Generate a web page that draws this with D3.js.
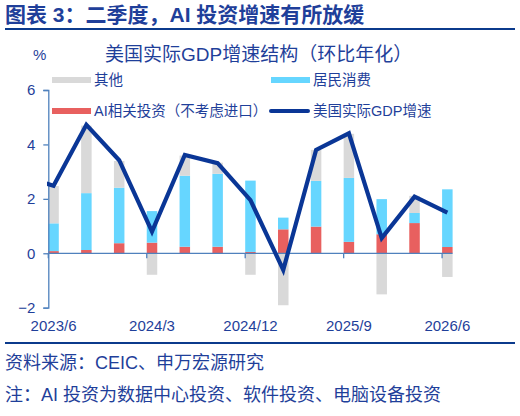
<!DOCTYPE html>
<html>
<head>
<meta charset="utf-8">
<script src="https://cdn.jsdelivr.net/npm/d3@7"></script>
<style>
  body { margin: 0; background: #fff; }
  text { font-family: "Liberation Sans", "Noto Sans CJK SC", sans-serif; fill: #1f3f9a; }
</style>
</head>
<body>
<div class="chart"></div>
<script>
// quarterly data
var quarters = ["2023/6", "2023/9", "2023/12", "2024/3", "2024/6", "2024/9", "2024/12",
                "2025/3", "2025/6", "2025/9", "2025/12", "2026/3", "2026/6"];
var tickLabels = ["2023/6", "2024/3", "2024/12", "2025/9", "2026/6"];
var aiInvest = [0.08, 0.12, 0.37, 0.39, 0.24, 0.24, 0.05, 0.88, 0.98, 0.42, 0.70, 1.11, 0.23];
var consumption = [1.02, 2.09, 2.04, 1.16, 2.61, 2.68, 2.62, 0.43, 1.68, 2.35, 1.29, 0.37, 2.12];
var other = [1.37, 2.48, 0.98, -0.79, 0.74, 0.41, -0.79, -1.91, 1.14, 1.62, -1.51, 0.63, -0.87];
var gdp = [2.48, 4.72, 3.42, 0.80, 3.61, 3.31, 1.95, -0.61, 3.80, 4.41, 0.56, 2.08, 1.49];
var gdpPrev = 2.85; // 2023/3, only the stub at the left edge shows
var yTicks = [-2, 0, 2, 4, 6];

var svgWidth = 520;
var svgHeight = 416;

var svg = d3.select(".chart")
  .append("svg")
  .attr("width", svgWidth)
  .attr("height", svgHeight);

var blue = "#1f3f9a";
var navy = "#0a3696";
var axisColor = "#4f81bd";

// header
svg.append("text")
  .attr("x", 5)
  .attr("y", 22)
  .attr("font-size", "21px")
  .attr("font-weight", "bold")
  .text("图表 3：二季度，AI 投资增速有所放缓");

svg.append("rect")
  .attr("x", 5).attr("y", 28)
  .attr("width", 510).attr("height", 2)
  .attr("fill", "#0b3a8c");

svg.append("text")
  .attr("x", 33).attr("y", 60)
  .attr("font-size", "15px")
  .text("%");

svg.append("text")
  .attr("x", 105).attr("y", 61)
  .attr("font-size", "19px")
  .text("美国实际GDP增速结构（环比年化）");

// scales
var x = d3.scaleBand()
  .domain(quarters)
  .range([48.3, 452.6])
  .paddingInner(0.68)
  .paddingOuter(0);

var y = d3.scaleLinear()
  .domain([-2, 6])
  .range([307.7, 90]);

// stack: positive parts piled up from zero, negatives hang below
var rows = quarters.map(function(q, i) {
  return { q: q, ai: aiInvest[i], cons: consumption[i], other: other[i] };
});

var segs = [];
rows.forEach(function(d) {
  var pos = 0, neg = 0;
  [["ai", "#e8605f"], ["cons", "#66d6ff"], ["other", "#d9d9d9"]].forEach(function(k) {
    var v = d[k[0]];
    if (v >= 0) {
      segs.push({ q: d.q, y0: pos, y1: pos + v, color: k[1] });
      pos += v;
    } else {
      segs.push({ q: d.q, y0: neg + v, y1: neg, color: k[1] });
      neg += v;
    }
  });
});

svg.append("g")
  .selectAll("rect")
  .data(segs)
  .enter()
  .append("rect")
  .attr("x", d => x(d.q))
  .attr("width", x.bandwidth())
  .attr("y", d => y(d.y1))
  .attr("height", d => y(d.y0) - y(d.y1))
  .attr("fill", d => d.color);

// axes
var leftAxis = d3.axisLeft(y)
  .tickValues(yTicks)
  .tickSize(5)
  .tickPadding(8);

var yAxisG = svg.append("g")
  .attr("transform", "translate(48.3,0)")
  .call(leftAxis);
yAxisG.select(".domain").attr("stroke", axisColor).attr("stroke-width", 1.3);
yAxisG.selectAll(".tick line").attr("stroke", axisColor).attr("stroke-width", 1.3);
yAxisG.selectAll(".tick text")
  .attr("font-size", "15px")
  .attr("fill", blue)
  .attr("font-family", null);

var bottomAxis = d3.axisBottom(x)
  .tickValues(tickLabels)
  .tickSize(0)
  .tickPadding(0);

var xAxisG = svg.append("g")
  .attr("transform", `translate(0, ${y(0)})`)
  .call(bottomAxis);
xAxisG.select(".domain")
  .attr("d", `M${x.range()[0]},0H${x.range()[1]}`)
  .attr("stroke", axisColor).attr("stroke-width", 1.3);
xAxisG.selectAll(".tick text")
  .attr("y", 78)
  .attr("dy", 0)
  .attr("font-size", "15px")
  .attr("fill", blue)
  .attr("font-family", null);

// little tick marks sit on the left edge of each labelled bar
svg.append("g")
  .selectAll("line")
  .data(tickLabels)
  .enter()
  .append("line")
  .attr("x1", d => x(d)).attr("x2", d => x(d))
  .attr("y1", y(0)).attr("y2", y(0) + 5)
  .attr("stroke", axisColor).attr("stroke-width", 1.3);

// GDP line, clipped at the y axis
svg.append("clipPath").attr("id", "plotClip")
  .append("rect")
  .attr("x", 47).attr("y", 0)
  .attr("width", 430).attr("height", svgHeight);

var step = x.step();
var linePts = [[x(quarters[0]) + x.bandwidth() / 2 - step, gdpPrev]]
  .concat(quarters.map((q, i) => [x(q) + x.bandwidth() / 2, gdp[i]]));

var line = d3.line()
  .x(d => d[0])
  .y(d => y(d[1]));

svg.append("path")
  .datum(linePts)
  .attr("d", line)
  .attr("clip-path", "url(#plotClip)")
  .attr("fill", "none")
  .attr("stroke", navy)
  .attr("stroke-width", 4.2)
  .attr("stroke-linejoin", "miter");

// legend
var legend = [
  { label: "其他", color: "#d9d9d9", type: "rect", lx: 52, ly: 80 },
  { label: "居民消费", color: "#66d6ff", type: "rect", lx: 271, ly: 80 },
  { label: "AI相关投资（不考虑进口）", color: "#e8605f", type: "rect", lx: 52, ly: 111 },
  { label: "美国实际GDP增速", color: navy, type: "line", lx: 271, ly: 111 }
];

legend.forEach(function(d) {
  if (d.type === "rect") {
    svg.append("rect")
      .attr("x", d.lx).attr("y", d.ly - 3)
      .attr("width", 39).attr("height", 6)
      .attr("fill", d.color);
  } else {
    svg.append("line")
      .attr("x1", d.lx).attr("x2", d.lx + 37)
      .attr("y1", d.ly).attr("y2", d.ly)
      .attr("stroke", d.color)
      .attr("stroke-width", 4)
      .attr("stroke-linecap", "round");
  }
  svg.append("text")
    .attr("x", d.lx + 42)
    .attr("y", d.ly + 5)
    .attr("font-size", "14.5px")
    .text(d.label);
});

// footer
svg.append("rect")
  .attr("x", 5).attr("y", 342)
  .attr("width", 510).attr("height", 2)
  .attr("fill", "#0b3a8c");

svg.append("text")
  .attr("x", 5).attr("y", 369)
  .attr("font-size", "18px")
  .text("资料来源：CEIC、申万宏源研究");

svg.append("text")
  .attr("x", 5).attr("y", 401)
  .attr("font-size", "18px")
  .text("注：AI 投资为数据中心投资、软件投资、电脑设备投资");
</script>
</body>
</html>
